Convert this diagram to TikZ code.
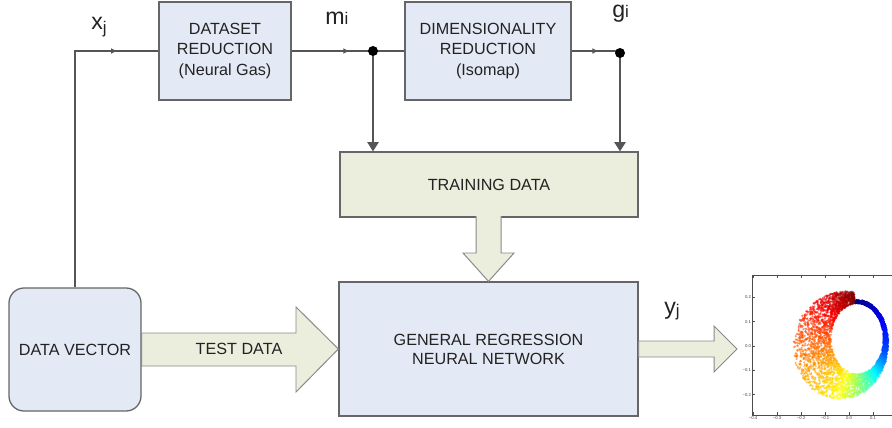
\documentclass[tikz,border=0pt]{standalone}
\usepackage{fontspec}
\setmainfont{Liberation Sans}
\usetikzlibrary{arrows.meta,decorations.markings,calc}
\newdimen\pxu \pxu=0.025cm

\definecolor{boxblue}{HTML}{E4EAF5}
\definecolor{boxgreen}{HTML}{EBEEDC}
\definecolor{linegray}{HTML}{555555}
\definecolor{edgegray}{HTML}{666666}
\definecolor{arrowedge}{HTML}{8A8A8A}
\definecolor{txt}{HTML}{222222}

\tikzset{
  blk/.style={draw=edgegray, line width=0.9pt, fill=boxblue, align=center,
    inner sep=0pt, text=txt, font=\fontsize{11.5}{14.7}\selectfont},
  wire/.style={draw=linegray, line width=0.9pt},
  downtip/.style={-{Triangle[width=8pt,length=6.5pt]}},
  midtip/.style={postaction=decorate, decoration={markings,
    mark=at position #1 with {\arrow{Triangle[width=3.6pt,length=3.6pt]}}}},
  fat/.style={draw=arrowedge, line width=0.7pt, fill=boxgreen},
  sym/.style={font=\fontsize{16.5}{16.5}\selectfont, text=txt, inner sep=0pt},
  ticklbl/.style={font=\fontsize{3}{3}\selectfont, text=black!75, inner sep=0.6pt},
  axisline/.style={draw=black!70, line width=0.35pt},
}

% subscript letter, lowered by the given amount
\newcommand{\subtxt}[2][0pt]{\raisebox{-#1}{\fontsize{12}{12}\selectfont #2}}

\begin{document}
\begin{tikzpicture}[x=0.025cm, y=-0.025cm]
\fill[white] (0,0) rectangle (892,427);
\useasboundingbox (0,0) rectangle (892,427);

% processing blocks
\node[blk, minimum width=132\pxu, minimum height=98\pxu] (dsr) at (225,51)
  {DATASET\\REDUCTION\\(Neural Gas)};
\node[blk, minimum width=166\pxu, minimum height=98\pxu] (dimr) at (488,51)
  {DIMENSIONALITY\\REDUCTION\\(Isomap)};
\node[blk, fill=boxgreen, minimum width=298\pxu, minimum height=65\pxu] (train) at (489,184.5)
  {TRAINING DATA};
\node[blk, minimum width=299\pxu, minimum height=134\pxu,
  font=\fontsize{11.5}{13.6}\selectfont] (grnn) at (488.5,349)
  {GENERAL REGRESSION\\NEURAL NETWORK};
\node[blk, rounded corners=15\pxu, minimum width=132\pxu, minimum height=123\pxu] (dv) at (75,349.5)
  {DATA VECTOR};

% branch points
\coordinate (j1) at (373,51);
\coordinate (j2) at (620,53);

% signal lines
\draw[wire, midtip=-30pt] (dv.north) |- (dsr.west);
\draw[wire, midtip=-17.5pt] (dsr.east) -- (j1);
\draw[wire] (j1) -- (dimr.west);
\draw[wire, midtip=-16pt] (dimr.east) -- (dimr.east -| j2);
\draw[wire, downtip] (j1) -- (j1 |- train.north);
\draw[wire, downtip] (j2) -- (j2 |- train.north);
\fill[black] (j1) circle (5\pxu);
\fill[black] (j2) circle (5\pxu);

% block arrows
\draw[fat] (dv.east |- 0,333) -- (296,333) -- (296,307) -- (grnn.west)
  -- (296,392) -- (296,366) -- (dv.east |- 0,366) -- cycle;
\node[blk, draw=none, fill=none] (testlbl) at (239,349) {TEST DATA};

\fill[boxgreen] (476,216) rectangle (501,254);
\draw[fat] (476,216.2) -- (476,253) -- (463,253) -- (grnn.north)
  -- (514,253) -- (501,253) -- (501,216.2);

\coordinate (ytip) at (737,349);
\draw[fat] (grnn.east |- 0,341) -- (714,341) -- (714,326) -- (ytip)
  -- (714,372) -- (714,357) -- (grnn.east |- 0,357) -- cycle;

% signal labels
\node[sym, anchor=base west] (lx) at (91,29.5) {x\subtxt[3pt]{j}};
\node[sym, anchor=base west] (lm) at (325,25) {m\subtxt{i}};
\node[sym, anchor=base west] (lg) at (612,17.5) {g\subtxt{i}};
\node[sym, anchor=base west] (ly) at (664,314) {y\subtxt[2pt]{j}};

% output scatter plot: a ring of points coloured by angle (jet map)
\begin{scope}
\clip (735,262) rectangle (892,427);
\pgfmathsetseed{7}
\foreach \k in {1,...,5000}{
  \pgfmathsetmacro\phic{360*rnd}
  \pgfmathsetmacro\tpar{\phic<115 ? 0.2*\phic/115 : (\phic<205 ? 0.2+0.42*(\phic-115)/90 : 0.62+0.38*(\phic-205)/155)}
  \pgfmathsetmacro\wid{0.012+0.15*exp(-((\phic-255)/85)^2)}
  \pgfmathsetmacro\ext{\wid*rnd^1.1-0.004*rnd}
  \pgfmathsetmacro\ang{95-\phic}
  \pgfmathsetmacro\dx{0.035+(0.112+\ext)*cos(\ang)}
  \pgfmathsetmacro\dy{0.03+(0.148+\ext)*sin(\ang)}
  \pgfmathsetmacro\cR{min(1,max(0,1.5-abs(4*\tpar-3)))}
  \pgfmathsetmacro\cG{min(1,max(0,1.5-abs(4*\tpar-2)))}
  \pgfmathsetmacro\cB{min(1,max(0,1.5-abs(4*\tpar-1)))}
  \definecolor{dotc}{rgb}{\cR,\cG,\cB}
  \fill[dotc, fill opacity=0.6] ({849+240*\dx},{346-243*\dy}) circle (0.85pt);
}
% axes frame
\draw[axisline] (752,415) -- (752,275) -- (900,275);
\draw[axisline] (752,415) -- (900,415);
\foreach \v/\t in {0.2/0.2, 0.1/0.1, 0.0/0.0, -0.1/−0.1, -0.2/−0.2}{
  \draw[axisline] (752,{346-243*\v}) -- ++(3,0);
  \node[ticklbl, anchor=east] at (752,{346-243*\v}) {\t};
}
\foreach \v/\t in {-0.4/−0.4, -0.3/−0.3, -0.2/−0.2, -0.1/−0.1, 0.0/0.0, 0.1/0.1}{
  \draw[axisline] ({849+240*\v},415) -- ++(0,-3);
  \draw[axisline] ({849+240*\v},275) -- ++(0,3);
  \node[ticklbl, anchor=north] at ({849+240*\v},415) {\t};
}
\end{scope}
\end{tikzpicture}
\end{document}
